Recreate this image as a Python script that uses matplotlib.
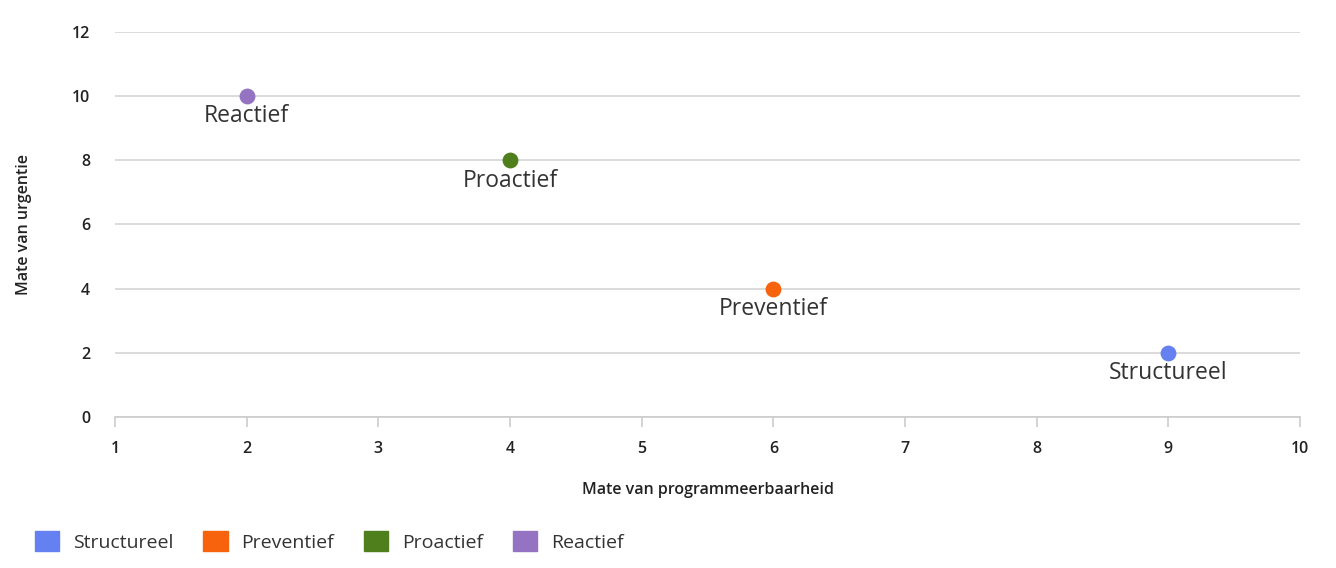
from matplotlib import pyplot as plt
from matplotlib.patches import Patch


# Chart data
categories = ["Structureel", "Preventief", "Proactief", "Reactief"]
programmeerbaarheid = [9, 6, 4, 2]
urgentie = [2, 4, 8, 10]
colors = ["#6580f0", "#f7630c", "#4e7f1c", "#9373c2"]

x_ticks = list(range(1, 11))
y_ticks = list(range(0, 13, 2))

plt.rcParams["font.family"] = ["Open Sans", "DejaVu Sans"]


def draw_plot():
    """
    Draw the scatter chart with labels and legend
    """
    fig = plt.figure(figsize=(13.36, 5.68), dpi=100)
    ax = fig.add_axes([0.0861, 0.2658, 0.887, 0.678])

    for name, x, y, c in zip(categories, programmeerbaarheid, urgentie, colors):
        ax.scatter(x, y, s=130, color=c, zorder=3, linewidths=0)
        ax.annotate(name, (x, y), xytext=(0, -6), textcoords="offset points",
                    ha="center", va="top", fontsize=16.5, color="#333333")

    ax.set_xlim(1, 10)
    ax.set_ylim(0, 12)
    ax.set_xticks(x_ticks)
    ax.set_yticks(y_ticks)
    ax.grid(axis="y", color="#d4d4d4", linewidth=1.2, zorder=0)
    ax.set_axisbelow(True)

    for side in ("top", "right", "left"):
        ax.spines[side].set_visible(False)
    ax.spines["bottom"].set_color("#cccccc")
    ax.spines["bottom"].set_linewidth(1.2)

    ax.tick_params(axis="x", length=7, width=1.2, color="#cccccc", pad=10,
                   labelsize=11.5, labelcolor="#222222")
    ax.tick_params(axis="y", length=0, pad=18, labelsize=11.5,
                   labelcolor="#222222")
    for lbl in ax.get_xticklabels() + ax.get_yticklabels():
        lbl.set_fontweight("semibold")

    ax.set_xlabel("Mate van programmeerbaarheid", fontsize=11.5,
                  fontweight="semibold", color="#222222", labelpad=18)
    ax.set_ylabel("Mate van urgentie", fontsize=11.5,
                  fontweight="semibold", color="#222222")
    ax.yaxis.set_label_coords(-0.07, 0.5)

    handles = [Patch(facecolor=c, edgecolor=c) for c in colors]
    fig.legend(handles, categories, loc="lower left",
               bbox_to_anchor=(0.013, -0.002), ncol=4, frameon=False,
               fontsize=14, handlelength=1.25, handleheight=1.25,
               handletextpad=0.7, columnspacing=1.55,
               labelcolor="#333333")
    return fig


if __name__ == '__main__':
    fig = draw_plot()
    fig.savefig("out.png", dpi=100)
    plt.close(fig)
